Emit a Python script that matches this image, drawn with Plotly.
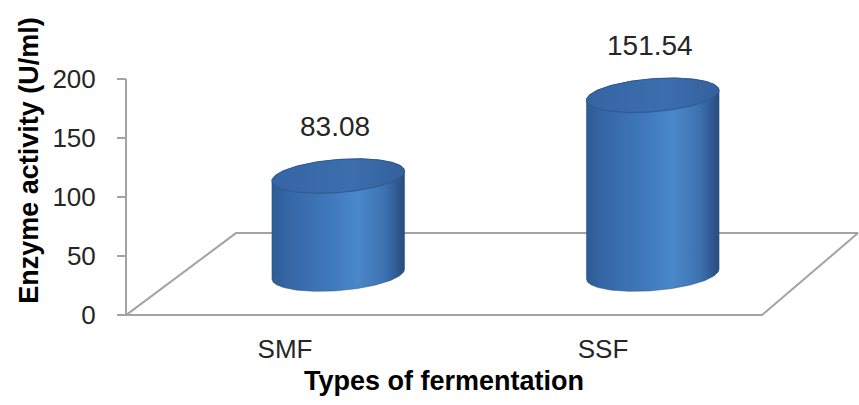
import numpy as np
import plotly.graph_objects as go

# Data
categories = ["SMF", "SSF"]
activity = [83.08, 151.54]
label_text = ["83.08", "151.54"]
y_ticks = [0, 50, 100, 150, 200]

# Scale / 3-D projection settings
PX_X = 318.0          # pixels per category unit on x
PX_Y = 1.18           # pixels per U/ml on y
X_PAD = 32            # px of plot area left of the value axis
PLOT_W = 765          # plot area width (px)
DEPTH_DX_L = 110 / PX_X   # floor back offset (x units) at the left end
DEPTH_DX_R = 96 / PX_X    # floor back offset (x units) at the right end
DEPTH_DY = 82 / PX_Y      # floor back offset (y units)
RX = 66.5             # cylinder half width (px)
RY = 16.5             # cylinder ellipse half height (px)
TILT = np.deg2rad(4.5)

GRAY = "#a3a3a3"
FONT = "Liberation Sans, Arial, sans-serif"

fig = go.Figure()

# Floor parallelogram
n = len(categories)
floor_x = [0, n, n + DEPTH_DX_R, DEPTH_DX_L, 0]
floor_y = [0, 0, DEPTH_DY, DEPTH_DY, 0]
fig.add_trace(go.Scatter(x=floor_x, y=floor_y, mode="lines",
                         line=dict(color=GRAY, width=2), hoverinfo="skip",
                         showlegend=False))

# Value axis line
fig.add_trace(go.Scatter(x=[0, 0], y=[y_ticks[0], y_ticks[-1]], mode="lines",
                         line=dict(color=GRAY, width=2), hoverinfo="skip",
                         showlegend=False))


def ellipse(cx, cy, t):
    px = RX * np.cos(t) * np.cos(TILT) - RY * np.sin(t) * np.sin(TILT)
    py = RX * np.cos(t) * np.sin(TILT) + RY * np.sin(t) * np.cos(TILT)
    return cx + px / PX_X, cy + py / PX_Y


t_left = np.arctan(-(RY / RX) * np.tan(TILT)) + np.pi   # leftmost point
t_right = t_left - np.pi                                  # rightmost point

body_scale = [[0.0, "#2d5b94"], [0.12, "#3566a6"], [0.45, "#4079bc"],
              [0.65, "#4a88c9"], [0.85, "#3d72b2"], [1.0, "#284c7e"]]
cap_scale = [[0.0, "#3565a4"], [0.6, "#3c6dad"], [1.0, "#34619d"]]

for i, (cat, val, txt) in enumerate(zip(categories, activity, label_text)):
    cx = i + 0.5 + 0.5 * (DEPTH_DX_L + (DEPTH_DX_R - DEPTH_DX_L) * (i + 0.5) / n)
    base = 0.5 * DEPTH_DY
    top = base + val

    # front arc of the base (left -> bottom -> right)
    tb = np.linspace(t_left, t_left + np.pi, 80)
    bx, by = ellipse(cx, base, tb)
    # back arc of the top (right -> top -> left)
    tt = np.linspace(t_right, t_right + np.pi, 80)
    tx, ty = ellipse(cx, top, tt)
    xs = np.concatenate([bx, tx, bx[:1]])
    ys = np.concatenate([by, ty, by[:1]])
    fig.add_trace(go.Scatter(
        x=xs, y=ys, mode="lines", fill="toself",
        line=dict(color="rgba(40,75,125,0.6)", width=0.8),
        fillgradient=dict(type="horizontal", colorscale=body_scale),
        hoverinfo="skip", showlegend=False))

    # top cap
    tc = np.linspace(0, 2 * np.pi, 160)
    ex, ey = ellipse(cx, top, tc)
    fig.add_trace(go.Scatter(
        x=ex, y=ey, mode="lines", fill="toself",
        line=dict(color="#2d5991", width=1),
        fillgradient=dict(type="horizontal", colorscale=cap_scale),
        hoverinfo="skip", showlegend=False))

    fig.add_annotation(x=cx - 0.01, y=top, xref="x", yref="y", text=txt,
                       showarrow=False, yshift=50,
                       font=dict(family=FONT, size=28, color="#262626"))

fig.add_annotation(x=n / 2, y=-0.187, xref="x", yref="paper",
                   text="Types of fermentation", showarrow=False,
                   yanchor="middle",
                   font=dict(family=FONT, size=27, color="#000000",
                             weight="bold"))

fig.update_xaxes(range=[-X_PAD / PX_X, (PLOT_W - X_PAD) / PX_X],
                 tickvals=[i + 0.5 for i in range(n)], ticktext=categories,
                 ticks="", showgrid=False, zeroline=False, showline=False,
                 ticklabelstandoff=10,
                 tickfont=dict(family=FONT, size=26, color="#262626"))
fig.update_yaxes(range=[-5, -5 + 321 / PX_Y], tickvals=y_ticks,
                 anchor="free", position=X_PAD / PLOT_W,
                 ticks="outside", ticklen=9, tickwidth=2, tickcolor=GRAY,
                 showgrid=False, zeroline=False, showline=False,
                 ticklabelstandoff=16,
                 tickfont=dict(family=FONT, size=26, color="#262626"),
                 title=dict(text="Enzyme activity (U/ml)", standoff=4,
                            font=dict(family=FONT, size=27, color="#000000",
                                      weight="bold")))

fig.update_layout(width=859, height=405,
                  margin=dict(l=94, r=0, t=0, b=84),
                  plot_bgcolor="white", paper_bgcolor="white",
                  showlegend=False)

fig.write_html("out.html")
